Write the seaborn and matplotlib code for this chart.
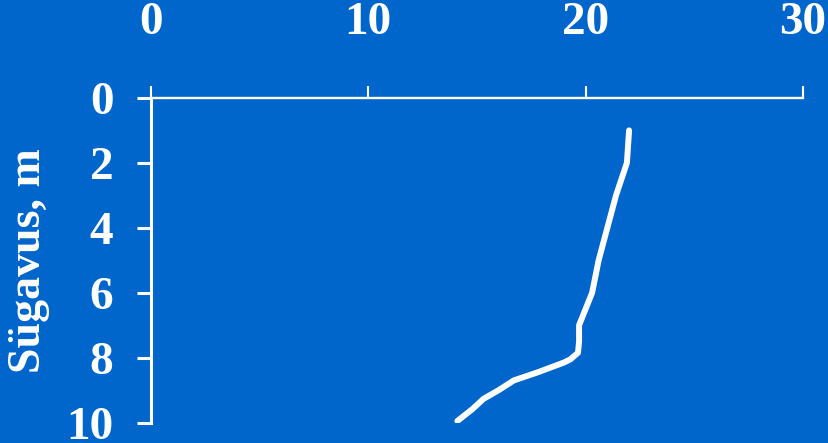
import matplotlib
matplotlib.use('Agg')
import matplotlib.pyplot as plt
import seaborn as sns

# Temperature profile
temperature = [22.0, 21.9, 21.4, 21.0, 20.6, 20.3, 19.7, 19.7, 19.65, 19.3, 19.0, 17.8, 16.7, 16.0, 15.3, 14.8, 14.1]
depth = [1.0, 2.0, 3.0, 4.0, 5.0, 6.0, 7.0, 7.5, 7.85, 8.05, 8.15, 8.45, 8.7, 9.0, 9.27, 9.58, 9.95]

x_ticks = [0, 10, 20, 30]
y_ticks = [0, 2, 4, 6, 8, 10]
y_label = 'Sügavus, m'

bg = '#0066CC'
sns.set_theme(style='white')
plt.rcParams['font.family'] = ['Liberation Serif', 'DejaVu Serif']
plt.rcParams['font.weight'] = 'bold'

fig = plt.figure(figsize=(8.29, 4.43), dpi=100, facecolor=bg)
ax = fig.add_axes([0.182, 0.046, 0.7866, 0.733])
ax.set_facecolor(bg)

sns.lineplot(x=temperature, y=depth, sort=False, estimator=None,
             color='white', linewidth=4.3, ax=ax)

ax.set_xlim(0, 30)
ax.set_ylim(10, 0)
ax.set_xticks(x_ticks)
ax.set_yticks(y_ticks)
ax.xaxis.tick_top()
ax.tick_params(axis='x', colors='white', labelsize=34, direction='out',
               length=9, width=1.5, pad=30, bottom=False, top=True)
ax.tick_params(axis='y', colors='white', labelsize=34, direction='out',
               length=10, width=2.2, pad=17, left=True)
for lab in ax.get_xticklabels() + ax.get_yticklabels():
    lab.set_fontweight('bold')

for side in ['right', 'bottom']:
    ax.spines[side].set_visible(False)
ax.spines['top'].set_color('white')
ax.spines['top'].set_linewidth(1.7)
ax.spines['left'].set_color('white')
ax.spines['left'].set_linewidth(2.2)

ax.set_ylabel(y_label, color='white', fontsize=33, fontweight='bold', labelpad=12)
ax.set_xlabel('')

fig.savefig('out.png', dpi=100, facecolor=bg)
